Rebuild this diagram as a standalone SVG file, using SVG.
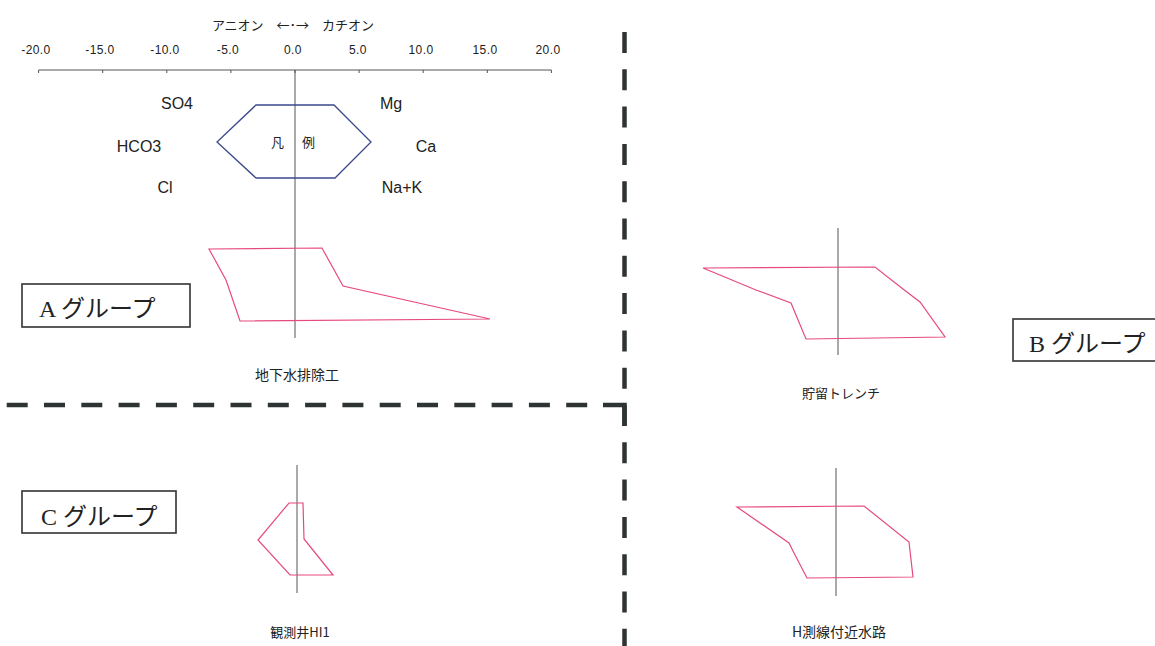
<svg xmlns="http://www.w3.org/2000/svg" width="1155" height="646" viewBox="0 0 1155 646">
<style>
.bg{fill:#ffffff}
.ax{stroke:#555;stroke-width:1;fill:none}
.tick{font-family:"Liberation Sans","Noto Sans CJK JP",sans-serif;font-size:12px;letter-spacing:0.4px;fill:#222;text-anchor:middle}
.ion{font-family:"Liberation Sans",sans-serif;font-size:16px;fill:#222;text-anchor:middle}
.jp{font-family:"Noto Sans CJK JP",sans-serif;fill:#222;text-anchor:middle}
.hex{fill:none;stroke:#3b4a8c;stroke-width:1.3}
.poly{fill:none;stroke:#e64a7c;stroke-width:1.2;stroke-linejoin:miter}
.gbox{fill:#fff;stroke:#333;stroke-width:1.6}
.gtxt{font-family:"Liberation Serif","Noto Sans CJK JP",serif;font-size:24px;fill:#222}
.dash{stroke:#2e3433;stroke-width:4.5;fill:none;stroke-dasharray:21 16.3}
.solid{stroke:#2e3433;stroke-width:4.5;fill:none;stroke-linejoin:miter}
</style>
<rect class="bg" x="0" y="0" width="1155" height="646"/>

<g id="axis">
  <text class="jp" x="293" y="30" font-size="13">アニオン　←･→　カチオン</text>
  <line class="ax" x1="38.6" y1="70" x2="551.4" y2="70"/>
  <path class="ax" d="M38.6 70v3M102.7 70v3M166.8 70v3M230.9 70v3M295 70v3M359.1 70v3M423.2 70v3M487.3 70v3M551.4 70v3"/>
  <text class="tick" x="36" y="54">-20.0</text>
  <text class="tick" x="100" y="54">-15.0</text>
  <text class="tick" x="165" y="54">-10.0</text>
  <text class="tick" x="228" y="54">-5.0</text>
  <text class="tick" x="293" y="54">0.0</text>
  <text class="tick" x="358" y="54">5.0</text>
  <text class="tick" x="421" y="54">10.0</text>
  <text class="tick" x="485" y="54">15.0</text>
  <text class="tick" x="548" y="54">20.0</text>
</g>

<g id="legend">
  <line class="ax" x1="295" y1="70" x2="295" y2="338"/>
  <polygon class="hex" points="256,105 334,105 371,142 335,178 256,178 217,142"/>
  <text class="jp" x="277.5 293 308.5" y="147" font-size="13">凡 例</text>
  <text class="ion" x="177" y="109">SO4</text>
  <text class="ion" x="139" y="152">HCO3</text>
  <text class="ion" x="165" y="193">Cl</text>
  <text class="ion" x="391" y="109">Mg</text>
  <text class="ion" x="426" y="152">Ca</text>
  <text class="ion" x="402" y="193">Na+K</text>
</g>

<g id="chart-a">
  <polygon class="poly" points="209,249 322,248 343,286 490,319 240,321 226,280"/>
  <text class="jp" x="297" y="380" font-size="14">地下水排除工</text>
</g>

<g id="chart-b">
  <line class="ax" x1="838" y1="228" x2="838" y2="355"/>
  <polygon class="poly" points="703,268 875,267 903,289 920,302 945,337 806,339 791,303 756,290"/>
  <text class="jp" x="841" y="398" font-size="13">貯留トレンチ</text>
</g>

<g id="chart-c">
  <line class="ax" x1="297" y1="465" x2="297" y2="593"/>
  <polygon class="poly" points="289,503 303,503 304,539 333,575 290,575 258,540"/>
  <text class="jp" x="300" y="637" font-size="13">観測井HI1</text>
</g>

<g id="chart-h">
  <line class="ax" x1="836" y1="468" x2="836" y2="596"/>
  <polygon class="poly" points="737,507 864,506 909,542 913,577 807,578 794,553 789,543"/>
  <text class="jp" x="839" y="637" font-size="14">H測線付近水路</text>
</g>

<g id="group-a">
  <rect class="gbox" x="22" y="284" width="168" height="43"/>
  <text class="gtxt" x="39" y="317">A グループ</text>
</g>
<g id="group-b">
  <rect class="gbox" x="1013" y="319" width="150" height="42"/>
  <text class="gtxt" x="1029" y="352">B グループ</text>
</g>
<g id="group-c">
  <rect class="gbox" x="22" y="491" width="154" height="42"/>
  <text class="gtxt" x="41" y="525">C グループ</text>
</g>

<g id="connectors">
  <line class="dash" x1="624.5" y1="32" x2="624.5" y2="646"/>
  <line class="dash" x1="587.2" y1="405" x2="0" y2="405"/>
  <path class="solid" d="M603 405H624.5V426"/>
</g>
</svg>
